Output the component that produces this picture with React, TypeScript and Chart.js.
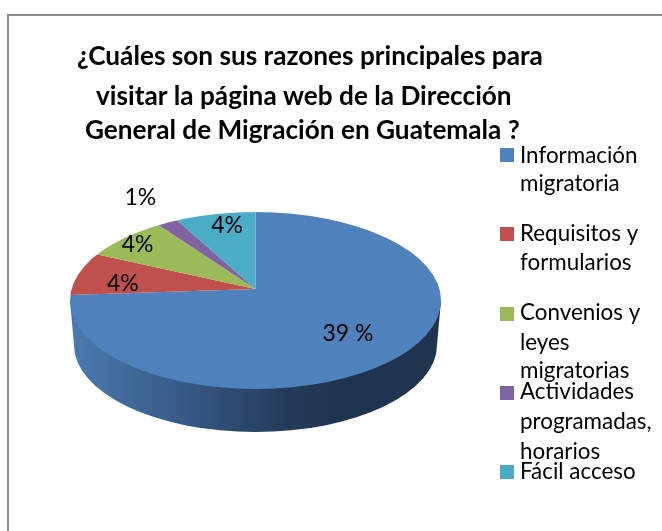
import React, { useEffect, useRef } from "react";
import { Chart, registerables } from "chart.js";

Chart.register(...registerables);

const categories = ["Información migratoria", "Requisitos y formularios", "Convenios y leyes migratorias", "Actividades programadas, horarios", "Fácil acceso"];
const values = [39, 4, 4, 1, 4];
const valueLabels = ["39 %", "4%", "4%", "1%", "4%"];
const sliceColors = ["#4F81BD", "#C0504D", "#9BBB59", "#8064A2", "#4BACC6"];
const titleLines = [
  "¿Cuáles son sus razones principales para",
  "visitar la página web de la Dirección",
  "General de Migración en Guatemala ?",
];
const legendLines = [
  ["Información", "migratoria"],
  ["Requisitos y", "formularios"],
  ["Convenios y", "leyes", "migratorias"],
  ["Actividades", "programadas,", "horarios"],
  ["Fácil acceso"],
];

const FONT = "Lato, Carlito, Calibri, sans-serif";
const TILT = 0.477;
const SKEW = -0.032;
const ENLARGE = 1.35;
const ELLIPSE_DROP = 11.5;
const titleLayout = [[77, 65], [96, 105], [85, 139]];
const legendLayout = { box: 500, text: 520, size: 14, boxTops: [148, 227, 307, 386, 465] };
const legendBaselines = [[163, 191], [241, 270], [320, 350, 378], [399, 429, 459], [479]];
const labelNudge = [[-2, 3], [-3, 6], [-18, -5], [-46, -39], [3.5, -3]];

const pie3d = {
  id: "pie3d",
  beforeDraw(chart: any) {
    const { ctx, width, height } = chart;
    ctx.save();
    ctx.fillStyle = "#ffffff";
    ctx.fillRect(0, 0, width, height);
    ctx.fillStyle = "#8c8c8c";
    ctx.fillRect(7, 14, width - 7, 2);
    ctx.fillRect(7, 14, 2, height - 14);
    ctx.restore();
  },
  beforeDatasetDraw(chart: any, args: any) {
    const { ctx } = chart;
    const arcs = args.meta.data;
    const { x: cx, y: cy, outerRadius: R } = arcs[0];
    const ey = cy + ELLIPSE_DROP;
    const ry = R * TILT;
    const wall = ctx.createLinearGradient(cx - R, 0, cx + R, 0);
    wall.addColorStop(0, "#4B7BB2");
    wall.addColorStop(0.14, "#426C9C");
    wall.addColorStop(0.35, "#33557F");
    wall.addColorStop(0.6, "#233A58");
    wall.addColorStop(0.72, "#1F344F");
    wall.addColorStop(1, "#1F344F");
    ctx.save();
    ctx.beginPath();
    ctx.moveTo(cx + R, ey);
    ctx.lineTo(cx + R - 4, ey + 44.5);
    ctx.ellipse(cx, ey + 44.5, R - 4, 87, 0, 0, Math.PI);
    ctx.lineTo(cx - R, ey);
    ctx.closePath();
    ctx.fillStyle = wall;
    ctx.fill();
    ctx.restore();

    ctx.save();
    ctx.beginPath();
    ctx.ellipse(cx, ey, R, ry, 0, 0, Math.PI * 2);
    ctx.clip();
    ctx.transform(ENLARGE, ENLARGE * SKEW, 0, ENLARGE * TILT, cx, cy);
    ctx.translate(-cx, -cy);
    arcs.forEach((a: any) => a.draw(ctx));
    ctx.restore();
    return false;
  },
  afterDatasetsDraw(chart: any) {
    const { ctx } = chart;
    const arcs = chart.getDatasetMeta(0).data;
    ctx.save();

    ctx.fillStyle = "#000000";
    ctx.font = `23px ${FONT}`;
    ctx.textAlign = "center";
    ctx.textBaseline = "middle";
    arcs.forEach((a: any, i: number) => {
      const mid = (a.startAngle + a.endAngle) / 2;
      const r = a.outerRadius * 0.72;
      const dx = Math.cos(mid) * r;
      const dy = Math.sin(mid) * r;
      ctx.fillText(valueLabels[i], a.x + dx + labelNudge[i][0], a.y + TILT * dy + SKEW * dx + labelNudge[i][1]);
    });

    ctx.textAlign = "left";
    ctx.textBaseline = "alphabetic";
    ctx.font = `bold 26.2px ${FONT}`;
    ctx.fillStyle = "#000000";
    titleLines.forEach((t, i) => ctx.fillText(t, titleLayout[i][0], titleLayout[i][1]));

    ctx.font = `22.4px ${FONT}`;
    legendLines.forEach((lines, i) => {
      ctx.fillStyle = sliceColors[i];
      ctx.fillRect(legendLayout.box, legendLayout.boxTops[i], legendLayout.size, legendLayout.size);
      ctx.fillStyle = "#000000";
      lines.forEach((t, j) => ctx.fillText(t, legendLayout.text, legendBaselines[i][j]));
    });
    ctx.restore();
  },
};

export default function App() {
  const ref = useRef<HTMLCanvasElement>(null);
  useEffect(() => {
    const chart = new Chart(ref.current!, {
      type: "pie",
      data: {
        labels: categories,
        datasets: [{ data: values, backgroundColor: sliceColors, borderWidth: 0 }],
      },
      options: {
        animation: false,
        responsive: false,
        layout: { padding: { left: 70, right: 221, top: 103.5, bottom: 56.5 } },
        plugins: { legend: { display: false }, title: { display: false }, tooltip: { enabled: false } },
      },
      plugins: [pie3d],
    } as any);
    return () => chart.destroy();
  }, []);
  return <canvas ref={ref} width={662} height={531} style={{ position: "fixed", left: 0, top: 0, display: "block" }} />;
}
